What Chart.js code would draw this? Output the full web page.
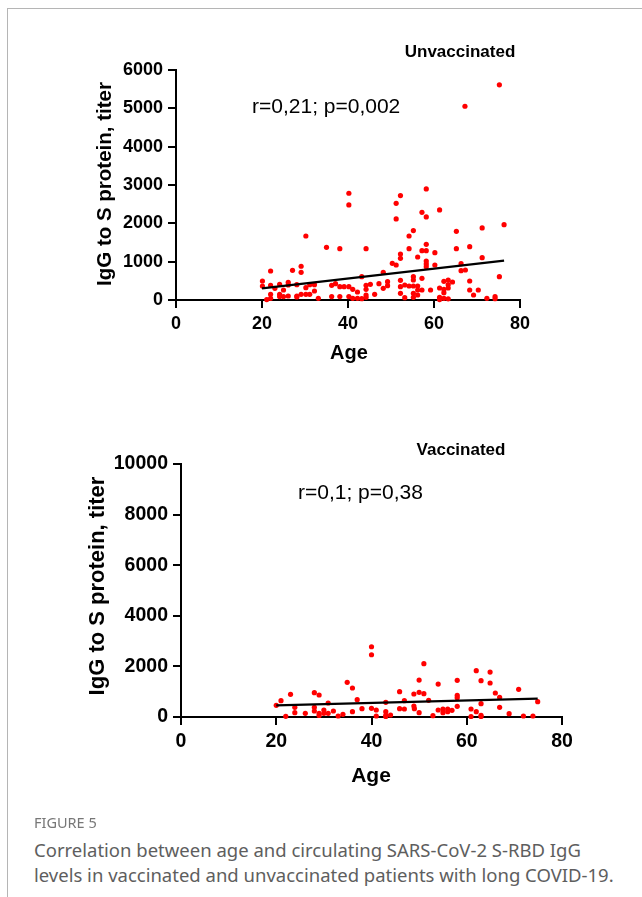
<!DOCTYPE html>
<html>
<head>
<meta charset="utf-8">
<script src="https://cdn.jsdelivr.net/npm/chart.js@4.4.0/dist/chart.umd.min.js"></script>
<style>
  body { margin: 0; background: #fff; width: 642px; height: 897px; overflow: hidden; position: relative;
         font-family: "Liberation Sans", Arial, sans-serif; }
  .frame { position: absolute; left: 7px; top: 8px; width: 700px; height: 1000px;
           border-left: 1px solid #b5b5b5; border-top: 1px solid #b5b5b5; }
  canvas { position: absolute; left: 0; }
  .t { position: absolute; white-space: nowrap; transform: translate(-50%, -50%); color: #000; z-index: 2; }
  .b { font-weight: bold; }
  .yt { transform: translate(-50%, -50%) rotate(-90deg); }
  .note { position: absolute; white-space: nowrap; transform: translateY(-50%); font-size: 21px; z-index: 2; }
  .cap { position: absolute; left: 34px; font-family: "Noto Sans", "Open Sans", sans-serif; color: #5e5e5e; }
</style>
</head>
<body>
<div class="frame"></div>

<canvas id="unvax" width="642" height="380" style="top:0"></canvas>
<canvas id="vax" width="642" height="420" style="top:400px"></canvas>

<div class="t b" style="left:460px;top:52px;font-size:17px">Unvaccinated</div>
<div class="note" style="left:252px;top:106px">r=0,21; p=0,002</div>
<div class="t b yt" style="left:104px;top:184px;font-size:20.5px">IgG to S protein, titer</div>
<div class="t b" style="left:349px;top:352px;font-size:20px">Age</div>

<div class="t b" style="left:461px;top:450px;font-size:17px">Vaccinated</div>
<div class="note" style="left:298px;top:492px">r=0,1; p=0,38</div>
<div class="t b yt" style="left:97px;top:586px;font-size:22px">IgG to S protein, titer</div>
<div class="t b" style="left:371px;top:775px;font-size:21px">Age</div>

<div class="cap" style="top:812px;font-size:14.5px;color:#777">FIGURE 5</div>
<div class="cap" style="top:837px;font-size:18.5px;line-height:25px">Correlation between age and circulating SARS-CoV-2 S-RBD IgG<br>levels in vaccinated and unvaccinated patients with long COVID-19.</div>

<script>
// unvaccinated patients
const unvaxAge = [40.2, 40.2, 30.2, 35, 38.1, 22, 27.1, 29.1, 29.1, 20.1, 20.1, 22, 24.1, 26.1, 26.1, 23, 25, 28.1, 30.2, 31.1,
  32.2, 32.2, 36.2, 37.1, 38.1, 39.1, 40.2, 41.1, 22, 24.1, 26.1, 28.1, 29.1, 30.2, 31.1, 22, 21.1, 24.1, 25, 28.1,
  33.1, 36.2, 38.1, 40.2, 41.1, 52.2, 51.2, 51.2, 58.2, 57.2, 58.2, 55.2, 54.2, 44.2, 54.2, 58.2, 57.2, 56.2, 58.2, 52.2,
  52.2, 60.2, 50.3, 51.2, 58.2, 58.2, 58.2, 48.2, 43.2, 42.2, 44.2, 45.2, 44.2, 47.2, 49.2, 49.2, 48.2, 52.2, 52.2, 53.2,
  54.2, 55.2, 56.2, 55.2, 55.2, 57.2, 56.2, 57.2, 59.2, 52.2, 53.2, 55.2, 55.2, 56.2, 46.2, 42.2, 43.2, 44.2, 44.2,
  61.3, 65.2, 71.2, 76.3, 65.2, 68.3, 60.2, 71.2, 66.3, 66.3, 67.3, 75.2, 62.3, 63.3, 64.3, 63.3, 68.3, 61.3, 62.3, 63.3,
  62.3, 68.3, 70.3, 69.2, 61.3, 62.3, 63.3, 61.3, 72.3, 74.2, 74.2, 75.2, 67.2];
const unvaxIgG = [2785, 2480, 1670, 1375, 1340, 757, 775, 880, 723, 496, 365, 383, 410, 462, 392, 305, 261, 400, 321, 400,
  400, 235, 383, 425, 347, 347, 347, 279, 148, 148, 104, 104, 148, 148, 148, 44, 10, 90, 90, 80,
  44, 90, 90, 90, 44, 2723, 2523, 2114, 2897, 2288, 2166, 1810, 1670, 1340, 1340, 1453, 1288, 1122, 1288, 1200,
  1087, 1235, 957, 913, 1018, 940, 870, 723, 609, 209, 383, 409, 279, 426, 478, 374, 305, 514, 348, 391,
  365, 365, 365, 609, 522, 566, 261, 261, 261, 174, 61, 174, 70, 130, 148, 44, 35, 70, 130,
  2349, 1792, 1879, 1966, 1340, 1392, 913, 1105, 948, 766, 783, 609, 487, 522, 470, 400, 496, 313, 279, 313,
  191, 261, 261, 130, 70, 44, 30, 10, 44, 90, 35, 5612, 5055];
const unvaxFitAge = [20, 76.3];
const unvaxFitIgG = [305, 1027];

// vaccinated patients
const vaxAge = [40, 40, 34.9, 36, 45.9, 23, 28, 29, 21, 20, 30.9, 37, 43, 46.9, 48.9, 23.9, 28, 38, 40, 45.9,
  46.9, 48.9, 23.9, 26.1, 28, 29, 30, 30, 30.9, 32, 34, 36, 41, 41, 43, 43, 43, 44, 22, 29, 33,
  51, 62, 64.9, 50, 54, 58, 63, 64.9, 70.9, 50, 51, 58, 58, 66, 66.9, 52, 74.9, 49, 58, 63, 66.9,
  50, 54, 55, 56, 56.9, 55, 56, 60.9, 62, 63, 63, 60.9, 52.9, 68.9, 71.9, 73.9];
const vaxIgG = [2777, 2461, 1371, 1146, 1000, 897, 960, 869, 644, 462, 553, 684, 580, 644, 909, 383, 383, 328, 342, 328,
  316, 430, 170, 146, 237, 146, 277, 146, 146, 237, 107, 209, 277, 40, 209, 64, 20, 80, 28, 64, 40,
  2106, 1830, 1777, 1461, 1303, 1448, 1435, 1343, 1093, 975, 921, 856, 764, 948, 777, 658, 605, 328, 421, 526, 383,
  170, 277, 316, 316, 263, 170, 209, 316, 209, 66, 20, 20, 53, 130, 40, 40];
const vaxFitAge = [20, 74.9];
const vaxFitIgG = [462, 723];

const ageTicks = [0, 20, 40, 60, 80];
const unvaxTicks = [0, 1000, 2000, 3000, 4000, 5000, 6000];
const vaxTicks = [0, 2000, 4000, 6000, 8000, 10000];

function pts(xs, ys) {
  return xs.map((x, i) => ({ x: x, y: ys[i] }));
}

function axis(ticks, fontSize) {
  return {
    type: 'linear',
    min: ticks[0],
    max: ticks[ticks.length - 1],
    ticks: { stepSize: ticks[1] - ticks[0], color: '#000', padding: 5,
             callback: v => String(v),
             font: { family: 'Liberation Sans', weight: 'bold', size: fontSize } },
    grid: { display: true, drawOnChartArea: false, drawTicks: true, tickLength: 8,
            color: '#000', tickColor: '#000', lineWidth: 2, tickWidth: 2 },
    border: { display: true, color: '#000', width: 2 }
  };
}

function makeChart(id, age, igg, fitAge, fitIgG, yTicks, area, fontSize) {
  const canvas = document.getElementById(id);
  const xAxis = axis(ageTicks, fontSize);
  xAxis.afterFit = s => { s.height = canvas.height - area.bottom; };
  const yAxis = axis(yTicks, fontSize);
  yAxis.afterFit = s => { s.width = area.left; };

  new Chart(canvas, {
    type: 'scatter',
    data: {
      datasets: [
        { type: 'line', data: pts(fitAge, fitIgG), borderColor: '#000', borderWidth: 2.2,
          pointRadius: 0, fill: false, clip: false },
        { data: pts(age, igg), backgroundColor: '#ff0000', borderWidth: 0,
          pointRadius: 2.6, pointHoverRadius: 2.6, clip: false }
      ]
    },
    options: {
      responsive: false,
      animation: false,
      devicePixelRatio: 1,
      layout: { padding: { left: 0, top: area.top, right: canvas.width - area.right, bottom: 0 } },
      plugins: { legend: { display: false }, tooltip: { enabled: false } },
      scales: { x: xAxis, y: yAxis }
    }
  });
}

makeChart('unvax', unvaxAge, unvaxIgG, unvaxFitAge, unvaxFitIgG, unvaxTicks,
  { left: 176, right: 520, top: 70, bottom: 300 }, 18);
makeChart('vax', vaxAge, vaxIgG, vaxFitAge, vaxFitIgG, vaxTicks,
  { left: 181, right: 562, top: 64, bottom: 317 }, 19.5);
</script>
</body>
</html>
